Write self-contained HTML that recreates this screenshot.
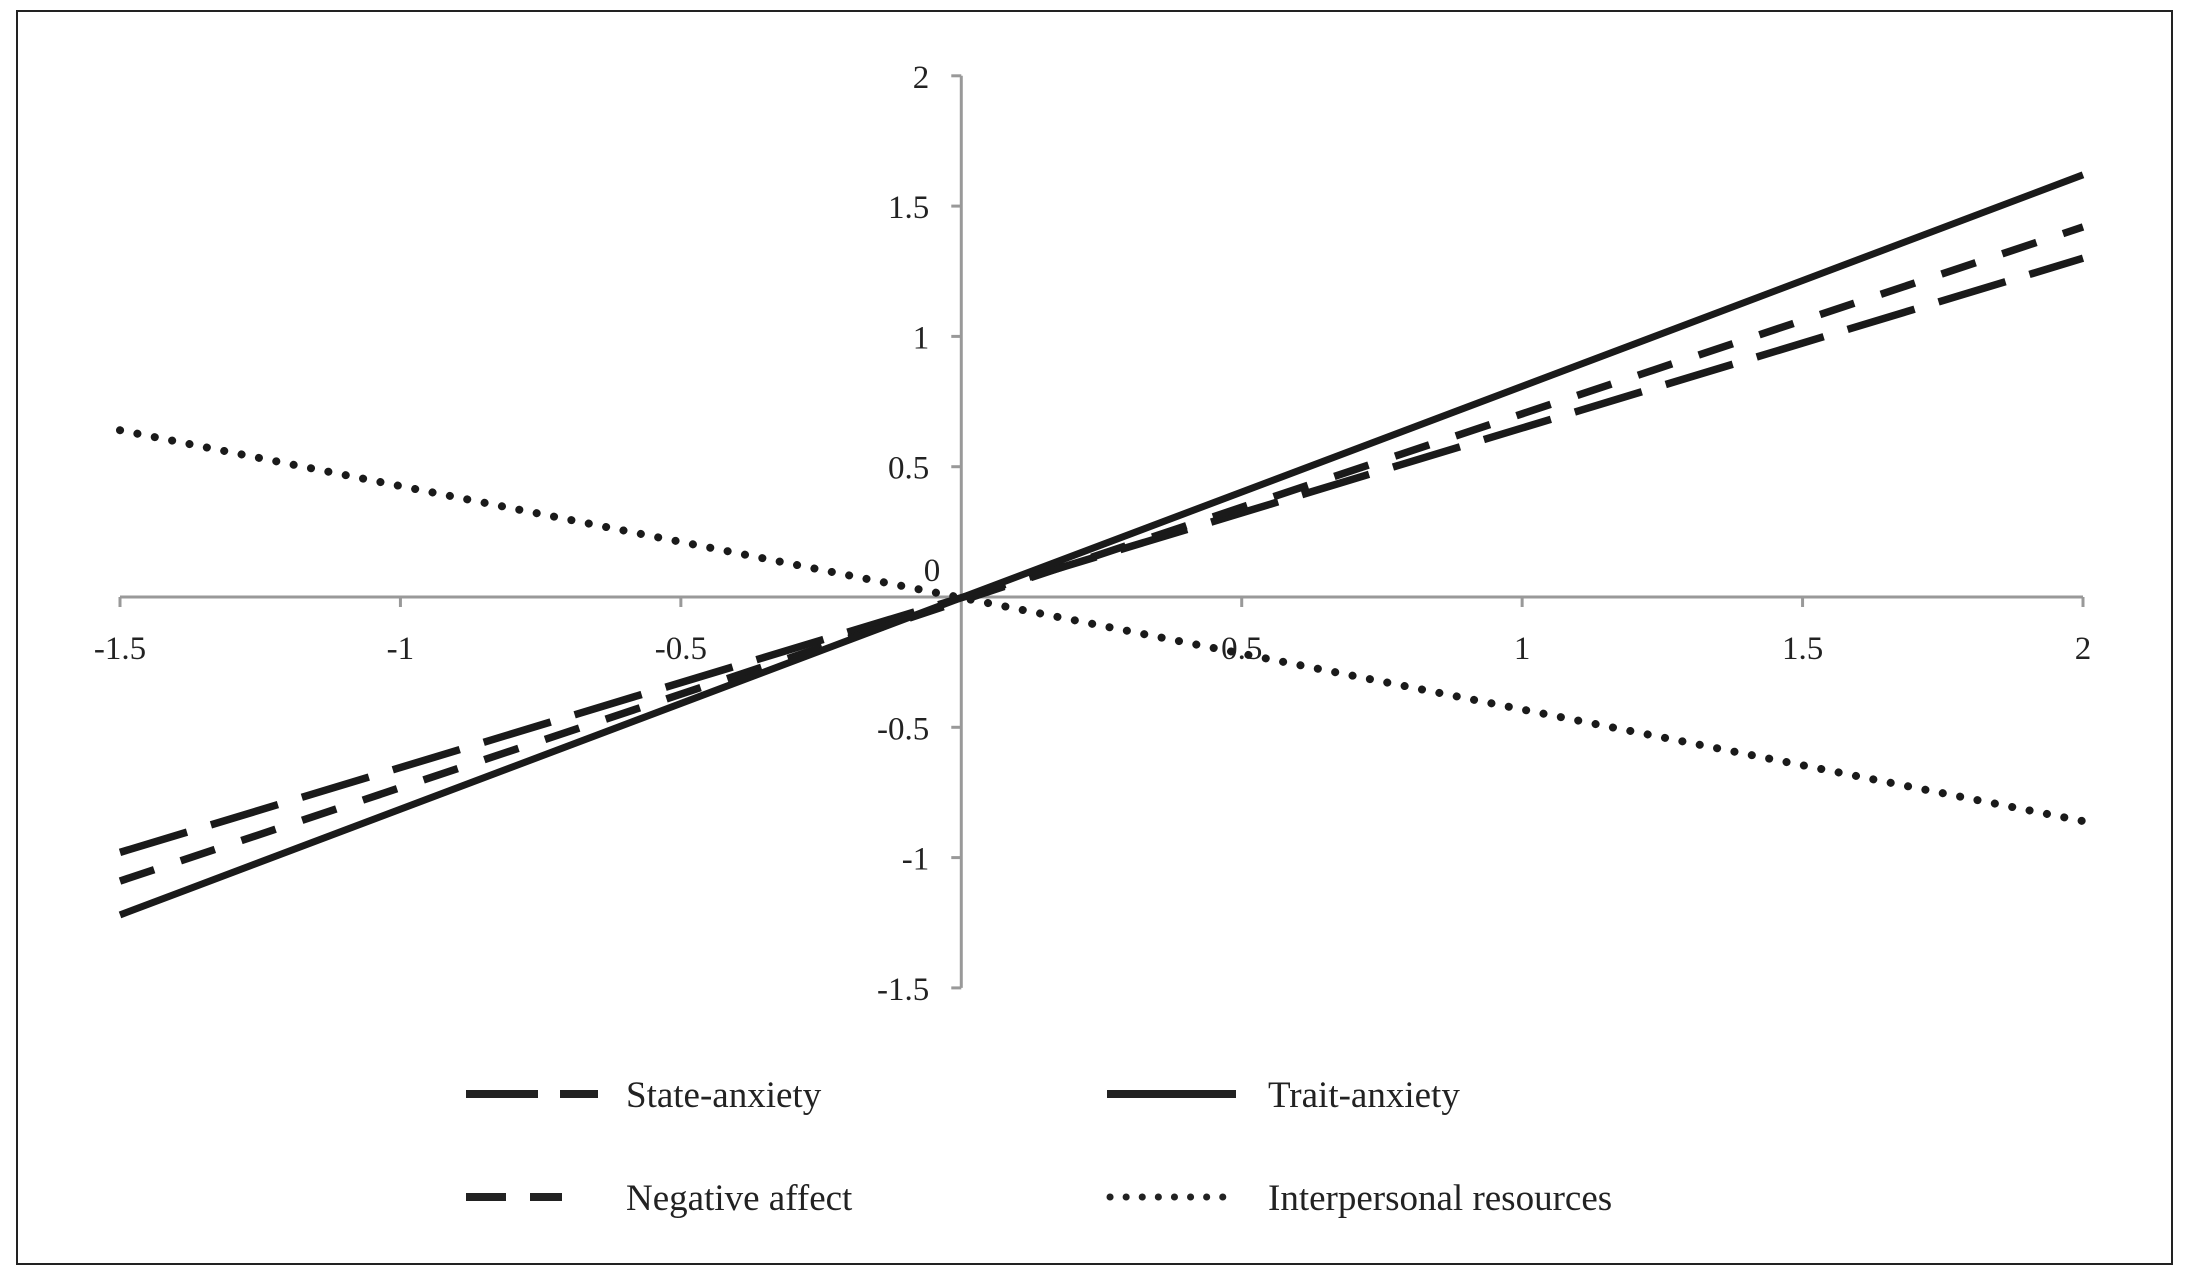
<!DOCTYPE html>
<html><head><meta charset="utf-8"><style>
html,body{margin:0;padding:0;background:#fff;}
svg{display:block;}
text{font-family:"Liberation Serif",serif;fill:#222;}
</style></head><body>
<svg id="chart" width="2191" height="1279" viewBox="0 0 2191 1279" xmlns="http://www.w3.org/2000/svg">
<rect x="17" y="11" width="2155" height="1253" fill="#fff" stroke="#222" stroke-width="2"/>
<g id="axes"></g>
<g id="series"></g>
<g id="legend">
  <line x1="466" y1="1094" x2="598" y2="1094" stroke="#222" stroke-width="8" stroke-dasharray="72 22"/>
  <text x="626" y="1107" font-size="37">State-anxiety</text>
  <line x1="1107" y1="1094" x2="1236" y2="1094" stroke="#222" stroke-width="8"/>
  <text x="1268" y="1107" font-size="37">Trait-anxiety</text>
  <line x1="466" y1="1197" x2="562" y2="1197" stroke="#222" stroke-width="8" stroke-dasharray="40 24"/>
  <text x="626" y="1210" font-size="37">Negative affect</text>
  <line x1="1110" y1="1197" x2="1225" y2="1197" stroke="#222" stroke-width="7" stroke-linecap="round" stroke-dasharray="0.1 16"/>
  <text x="1268" y="1210" font-size="37">Interpersonal resources</text>
</g>
</svg>
<script>
const xTicks = [-1.5, -1, -0.5, 0.5, 1, 1.5, 2];
const xTickLabels = ["-1.5", "-1", "-0.5", "0.5", "1", "1.5", "2"];
const yTicks = [2, 1.5, 1, 0.5, 0, -0.5, -1, -1.5];
const yTickLabels = ["2", "1.5", "1", "0.5", "0", "-0.5", "-1", "-1.5"];
const seriesNames = ["state-anxiety", "negative-affect", "trait-anxiety", "interpersonal-resources"];
const xValues = [-1.5, 2];
const stateAnxiety = [-0.98, 1.30];
const negativeAffect = [-1.09, 1.42];
const traitAnxiety = [-1.22, 1.62];
const interpersonal = [0.64, -0.86];

const NS = "http://www.w3.org/2000/svg";
const X0 = 120, X1 = 2083, Y0 = 597, YU = 260.6;
function sx(v){ return X0 + (v - (-1.5)) * (X1 - X0) / 3.5; }
function sy(v){ return Y0 - v * YU; }
function mk(tag, attrs, parent){
  const e = document.createElementNS(NS, tag);
  for (const k in attrs) e.setAttribute(k, attrs[k]);
  parent.appendChild(e); return e;
}
const axes = document.getElementById('axes');
const xAxis = mk('line', {x1:sx(-1.5), y1:sy(0), x2:sx(2), y2:sy(0), stroke:'#999', 'stroke-width':3}, axes);


const yAxis = mk('line', {x1:sx(0), y1:sy(2), x2:sx(0), y2:sy(-1.5), stroke:'#999', 'stroke-width':3}, axes);


xTicks.forEach((v, i) => {
  const t = mk('line', {x1:sx(v), y1:sy(0), x2:sx(v), y2:sy(0)+10, stroke:'#999', 'stroke-width':3}, axes);
  
  
  const l = mk('text', {x:sx(v), y:sy(0)+62, 'font-size':33, 'text-anchor':'middle'}, axes);
  l.textContent = xTickLabels[i];
  
  
});
yTicks.forEach((v, i) => {
  if (v !== 0) {
    const t = mk('line', {x1:sx(0)-10, y1:sy(v), x2:sx(0), y2:sy(v), stroke:'#999', 'stroke-width':3}, axes);
    
    
  }
  const yy = v === 0 ? sy(v) - 16 : sy(v) + 12;
  const l = mk('text', {x:sx(0)-32 + (v===0?11:0), y:yy, 'font-size':33, 'text-anchor':'end'}, axes);
  l.textContent = yTickLabels[i];
  
  
});
const series = document.getElementById('series');
const styles = [
  {vals: stateAnxiety, dash: '70 25', cap:'butt', w:7.5},
  {vals: negativeAffect, dash: '36 28', cap:'butt', w:7.5},
  {vals: traitAnxiety, dash: 'none', cap:'butt', w:7},
  {vals: interpersonal, dash: '0.1 17.6', cap:'round', w:8}
];
styles.forEach((s, i) => {
  const pts = xValues.map((x, j) => sx(x) + ',' + sy(s.vals[j])).join(' ');
  const p = mk('polyline', {points: pts, fill:'none', stroke:'#1a1a1a', 'stroke-width': s.w, 'stroke-dasharray': s.dash, 'stroke-linecap': s.cap}, series);
  
  
});
</script>
</body></html>
